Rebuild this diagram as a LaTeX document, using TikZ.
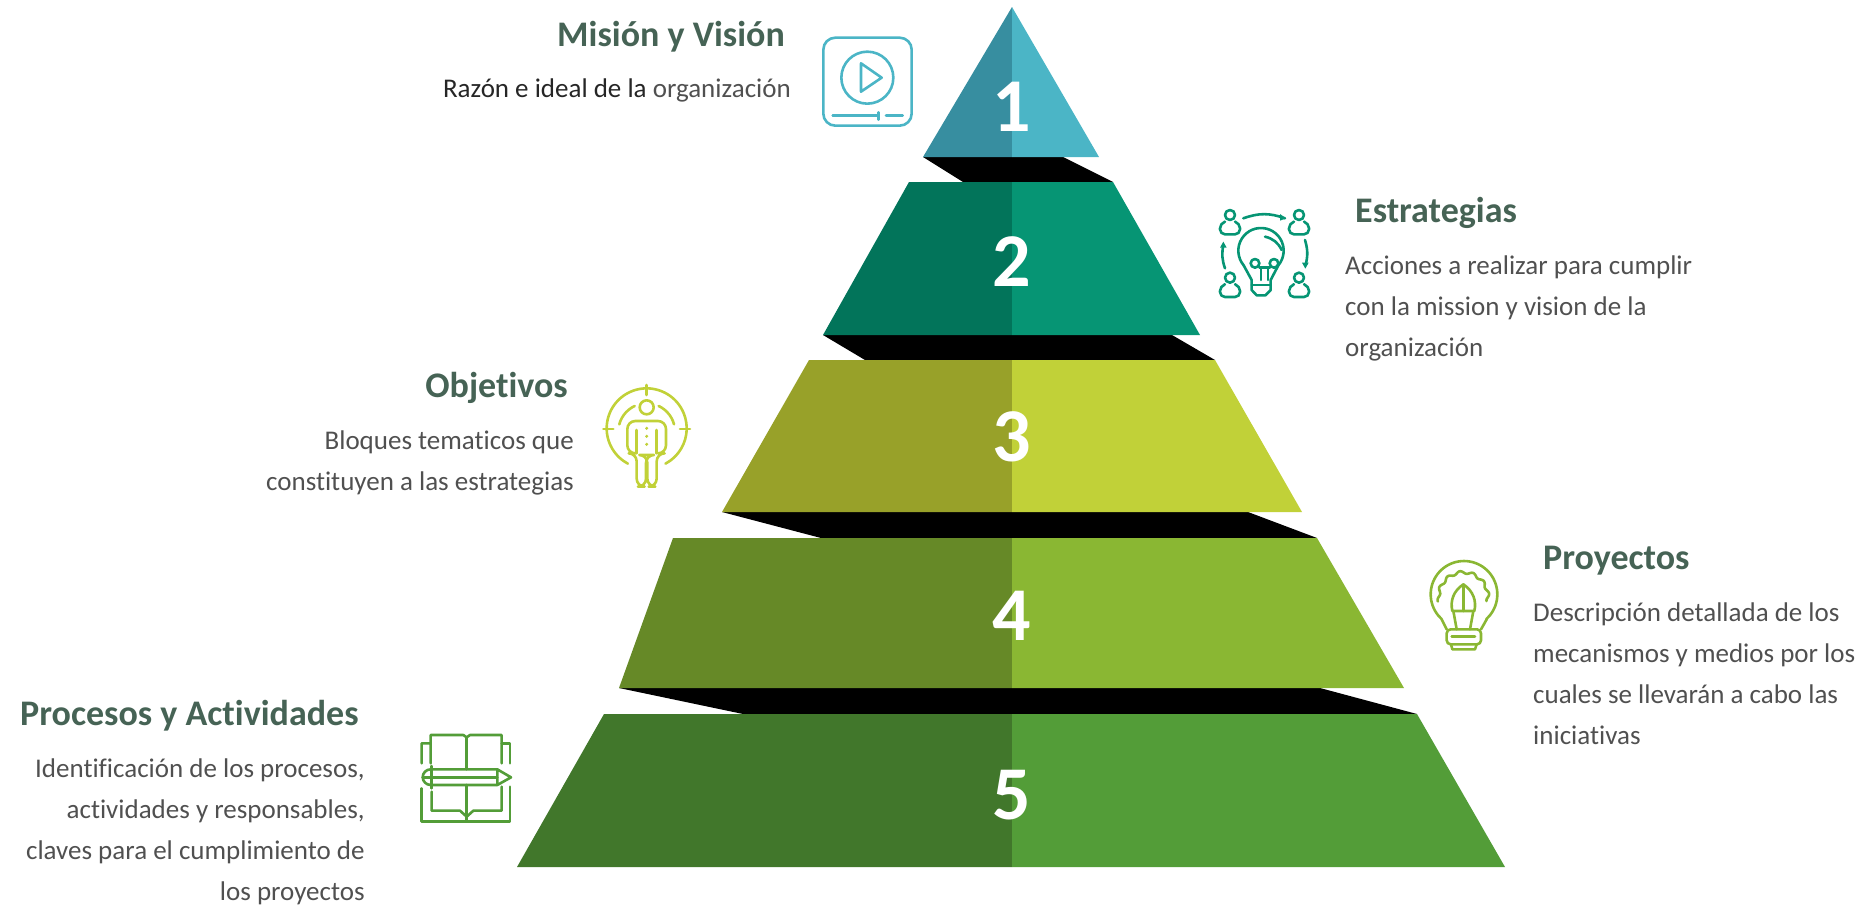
\documentclass[tikz,border=0pt]{standalone}
\usepackage{fontspec}
\setmainfont[RawFeature={-liga}]{Carlito}
\usetikzlibrary{positioning}

\definecolor{tealdk}{HTML}{378EA0}
\definecolor{teallt}{HTML}{4BB5C6}
\definecolor{greendk}{HTML}{02745A}
\definecolor{greenlt}{HTML}{069574}
\definecolor{olivedk}{HTML}{98A129}
\definecolor{olivelt}{HTML}{C1D138}
\definecolor{mossdk}{HTML}{668927}
\definecolor{mosslt}{HTML}{8AB733}
\definecolor{leafdk}{HTML}{41772B}
\definecolor{leaflt}{HTML}{539D38}
\definecolor{titlecol}{HTML}{466355}
\definecolor{bodycol}{HTML}{505050}

\tikzset{
  tiernum/.style={text=white, font=\bfseries\fontsize{76}{76}\selectfont, inner sep=0pt},
  heading/.style={text=titlecol, font=\bfseries\fontsize{36}{40}\selectfont, inner sep=0pt},
  descr/.style={text=bodycol, font=\fontsize{27}{41}\selectfont, inner sep=0pt},
  icon/.style={line width=2.6pt, line cap=round, line join=round, scale=1/3},
}

% left half and right half of a tier
\newcommand{\halves}[4]{%
  \fill[#1] #3 -- cycle;
  \fill[#2] #4 -- cycle;
}
\newcommand{\person}[2]{%
  \draw (#1,#2-12) circle[radius=15];
  \draw[rounded corners=5pt] (#1-15,#2+8) -- (#1-30,#2+13) -- (#1-30,#2+46) -- (#1+30,#2+46) -- (#1+30,#2+13) -- (#1+15,#2+8);
}

\begin{document}
\begin{tikzpicture}[x=1pt,y=-1pt]
  \useasboundingbox (0,0) rectangle (1864,905);

  % black bands
  \fill[black] (923,157) -- (963,182) -- (1113,182) -- (1063,157) -- cycle;
  \fill[black] (823,335) -- (865,360) -- (1215,360) -- (1172,335) -- cycle;
  \fill[black] (722,512) -- (821,538) -- (1317,538) -- (1248,512) -- cycle;
  \fill[black] (619,688) -- (743,714) -- (1417,714) -- (1320,688) -- cycle;

  % pyramid
  \halves{tealdk}{teallt}{(1012,7) -- (1012,157) -- (923,157)}{(1012,7) -- (1012,157) -- (1099,157)}
  \halves{greendk}{greenlt}{(1012,182) -- (1012,335) -- (823,335) -- (909,182)}{(1012,182) -- (1012,335) -- (1200,335) -- (1113,182)}
  \halves{olivedk}{olivelt}{(1012,360) -- (1012,512) -- (722,512) -- (809,360)}{(1012,360) -- (1012,512) -- (1302,512) -- (1215,360)}
  \halves{mossdk}{mosslt}{(1012,538) -- (1012,688) -- (619,688) -- (673,538)}{(1012,538) -- (1012,688) -- (1404,688) -- (1317,538)}
  \halves{leafdk}{leaflt}{(1012,714) -- (1012,867) -- (517,867) -- (604,714)}{(1012,714) -- (1012,867) -- (1505,867) -- (1417,714)}

  \node[tiernum] (num1) at (1012,107) {1};
  \node[tiernum] (num2) at (1012,262) {2};
  \node[tiernum] (num3) at (1012,437) {3};
  \node[tiernum] (num4) at (1012,616) {4};
  \node[tiernum] (num5) at (1012,795) {5};

  % texts
  \node[heading] (mision) at (671,37) {Misión y Visión};
  \node[descr, anchor=east] (misiontxt) at (791,90) {\textcolor{black!85}{Razón e ideal de la} organización};

  \node[heading, anchor=west] (estrategias) at (1355,213) {Estrategias};
  \node[descr, align=left, below right=26.5pt and -10pt of estrategias.south west] (estrategiastxt)
    {Acciones a realizar para cumplir\\con la mission y vision de la\\organización};

  \node[heading, anchor=east] (objetivos) at (568,388) {Objetivos};
  \node[descr, align=right, below left=26.5pt and -6pt of objetivos.south east] (objetivostxt)
    {Bloques tematicos que\\constituyen a las estrategias};

  \node[heading, anchor=west] (proyectos) at (1543,561) {Proyectos};
  \node[descr, align=left, below right=26.5pt and -10pt of proyectos.south west] (proyectostxt)
    {Descripción detallada de los\\mecanismos y medios por los\\cuales se llevarán a cabo las\\iniciativas};

  \node[heading, anchor=west] (procesos) at (20,716) {Procesos y Actividades};
  \node[descr, align=right, below left=26.5pt and -6pt of procesos.south east] (procesostxt)
    {Identificación de los procesos,\\actividades y responsables,\\claves para el cumplimiento de\\los proyectos};

  % play icon
  \begin{scope}[shift={(810,25)}, icon, draw=teallt]
    \draw[rounded corners=12pt] (40,38) rectangle (305,302);
    \draw (172,158) circle[radius=78];
    \draw (153,115) -- (215,158) -- (153,200) -- cycle;
    \draw (68,272) -- (205,272) (205,262) -- (205,284) (228,272) -- (278,272);
  \end{scope}

  % bulb and people icon
  \begin{scope}[shift={(1200,190)}, icon, draw=greenlt]
    \person{90}{87}
    \person{297}{87}
    \person{90}{275}
    \person{297}{275}
    \draw plot[smooth, domain=-40:220, samples=30] ({183+68*cos(\x)},{182-68*sin(\x)});
    \draw (131,226) -- (155,270) -- (155,300) -- (170,316) -- (196,316) -- (212,300) -- (212,270) -- (235,226);
    \draw (155,285) -- (212,285);
    \draw (195,140) to[bend left=25] (245,180);
    \draw (165,220) circle[radius=13] (222,220) circle[radius=13];
    \draw (178,232) -- (210,232) (183,232) -- (183,270) (204,232) -- (204,270);
    \draw (130,85) to[bend left=20] (255,85);
    \fill[greenlt] (258,85) -- (240,72) -- (240,92) -- cycle;
    \draw (315,150) to[bend left=15] (317,225);
    \fill[greenlt] (316,236) -- (306,218) -- (326,218) -- cycle;
    \draw (75,235) to[bend left=15] (70,165);
    \fill[greenlt] (70,155) -- (60,173) -- (80,173) -- cycle;
  \end{scope}

  % target icon
  \begin{scope}[shift={(590,375)}, icon, draw=olivelt]
    \draw plot[smooth, domain=-62:242, samples=40] ({170+120*cos(\x)},{160-120*sin(\x)});
    \draw (170,30) -- (170,60) (40,162) -- (70,162) (270,162) -- (300,162);
    \draw plot[smooth, domain=115:165, samples=8] ({170+85*cos(\x)},{170-85*sin(\x)});
    \draw plot[smooth, domain=15:65, samples=8] ({170+85*cos(\x)},{170-85*sin(\x)});
    \draw (170,97) circle[radius=21];
    \draw[rounded corners=8pt] (140,335) -- (140,235) -- (112,235) -- (112,138) -- (228,138) -- (228,235) -- (200,235) -- (200,335) -- (172,335) -- (172,240) -- (168,240) -- (168,335) -- cycle;
    \draw (140,165) -- (140,235) (200,165) -- (200,235);
    \fill[olivelt] (170,160) circle[radius=5] (170,184) circle[radius=5] (170,208) circle[radius=5];
  \end{scope}

  % lamp and nib icon
  \begin{scope}[shift={(1415,551)}, icon, draw=mosslt]
    \draw plot[smooth, domain=-48:228, samples=30] ({147+100*cos(\x)},{130-100*sin(\x)});
    \draw (80,205) -- (95,235) (215,205) -- (198,235);
    \draw[rounded corners=4pt] (95,235) rectangle (198,280);
    \draw (110,257) -- (180,257);
    \draw (108,280) -- (112,295) -- (180,295) -- (185,280);
    \draw (145,100) .. controls (115,120) and (105,150) .. (112,180) -- (178,180) .. controls (185,150) and (175,120) .. (145,100);
    \draw (145,100) -- (145,180);
    \draw (115,180) -- (125,235) (175,180) -- (165,235);
    \draw plot[smooth, domain=-10:190, samples=90] ({145+(74+4*sin(12*\x))*cos(\x)},{138-(74+4*sin(12*\x))*sin(\x)});
  \end{scope}

  % book and pencil icon
  \begin{scope}[shift={(410,720)}, icon, draw=leaflt]
    \draw (35,130) -- (35,70) -- (62,70) (62,130) -- (62,45) -- (160,45) -- (170,52) -- (180,45) -- (275,45) -- (275,130);
    \draw (275,70) -- (300,70) -- (300,130);
    \draw (170,52) -- (170,148);
    \draw[rounded corners=8pt] (262,148) -- (38,148) -- (38,195) -- (262,195);
    \draw (262,148) -- (303,172) -- (262,195) -- cycle;
    \draw (38,172) -- (262,172);
    \draw (65,138) -- (65,205);
    \draw (170,195) -- (170,300);
    \draw (35,205) -- (35,305) -- (300,305) -- (300,200);
    \draw (65,215) -- (65,272) -- (150,272) -- (170,290) -- (190,272) -- (275,272) -- (275,200);
  \end{scope}
\end{tikzpicture}
\end{document}
